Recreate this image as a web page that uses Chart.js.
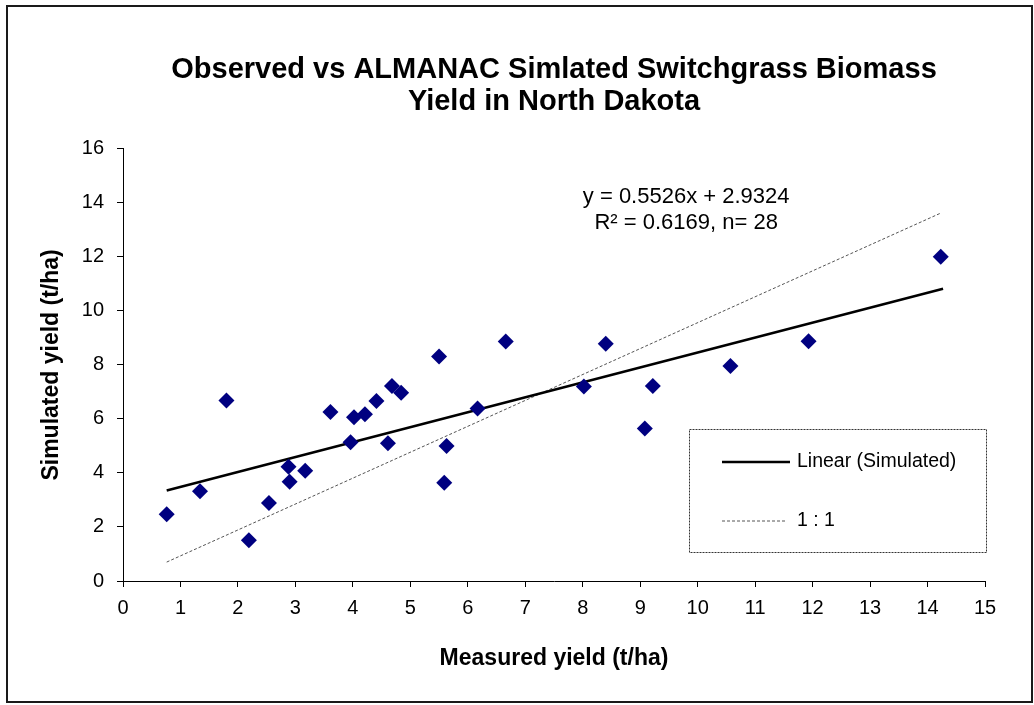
<!DOCTYPE html>
<html>
<head>
<meta charset="utf-8">
<title>Switchgrass biomass yield</title>
<script src="https://cdn.jsdelivr.net/npm/chart.js@4.4.1/dist/chart.umd.min.js"></script>
<style>
  html, body { margin: 0; padding: 0; background: #fff; }
  #wrap { width: 1034px; height: 705px; }
</style>
</head>
<body>
<div id="wrap"><canvas id="grafico" width="1034" height="705"></canvas></div>
<script>
// measured vs simulated yield (t/ha), one entry per plot-year
const medido   = [0.76, 1.34, 1.80, 2.19, 2.54, 2.88, 2.90, 3.17, 3.61, 3.96, 4.02, 4.21, 4.41, 4.61,
                  4.68, 4.84, 5.50, 5.59, 5.63, 6.17, 6.66, 8.02, 8.40, 9.08, 9.22, 10.57, 11.93, 14.23];
const simulado = [2.47, 3.32, 6.68, 1.51, 2.89, 4.23, 3.67, 4.08, 6.26, 5.14, 6.06, 6.17, 6.66, 5.10,
                  7.22, 6.97, 8.31, 3.64, 5.00, 6.39, 8.87, 7.20, 8.78, 5.65, 7.22, 7.96, 8.88, 12.00];

// fitted trend y = 0.5526x + 2.9324 over the measured range
const pendiente = 0.5526;
const intercepto = 2.9324;
const rangoTendencia = [0.76, 14.27];

// reference line ends
const lineaRefX = [0.76, 14.23];
const lineaRefY = [0.70, 13.62];

const ecuacion = ['y = 0.5526x + 2.9324', 'R² = 0.6169, n= 28'];
const ticksX = [0, 15, 1];
const ticksY = [0, 16, 2];

const puntos = medido.map((x, i) => ({ x: x, y: simulado[i] }));
const tendencia = rangoTendencia.map(x => ({ x: x, y: pendiente * x + intercepto }));
const lineaRef = lineaRefX.map((x, i) => ({ x: x, y: lineaRefY[i] }));

const fuente = "'Liberation Sans', Arial, sans-serif";

// fondo blanco y marco exterior
const marco = {
    id: 'marco',
    beforeDraw(chart) {
        const ctx = chart.ctx;
        ctx.save();
        ctx.fillStyle = '#fff';
        ctx.fillRect(0, 0, chart.width, chart.height);
        ctx.strokeStyle = '#1a1a1a';
        ctx.lineWidth = 2;
        ctx.strokeRect(7, 6, 1025, 696);
        ctx.restore();
    }
};

// ecuación y leyenda dentro del área de trazado
const anotaciones = {
    id: 'anotaciones',
    afterDraw(chart) {
        const ctx = chart.ctx;
        const sx = chart.scales.x, sy = chart.scales.y;
        ctx.save();
        ctx.fillStyle = '#000';
        ctx.font = '22px ' + fuente;
        ctx.textAlign = 'center';
        ctx.textBaseline = 'middle';
        const ex = sx.getPixelForValue(9.8);
        ctx.fillText(ecuacion[0], ex, sy.getPixelForValue(14.2));
        ctx.fillText(ecuacion[1], ex, sy.getPixelForValue(13.25));

        // caja de leyenda
        const bx = 689.5, by = 429.5, bw = 297, bh = 123;
        ctx.strokeStyle = '#333';
        ctx.lineWidth = 1;
        ctx.setLineDash([2, 1]);
        ctx.strokeRect(bx, by, bw, bh);

        const items = [chart.data.datasets[1], chart.data.datasets[2]];
        const filas = [462, 521];
        ctx.textAlign = 'left';
        ctx.font = '19.5px ' + fuente;
        items.forEach((ds, i) => {
            ctx.strokeStyle = ds.borderColor;
            ctx.lineWidth = ds.borderWidth;
            ctx.setLineDash(ds.borderDash || []);
            ctx.beginPath();
            ctx.moveTo(722, filas[i]);
            ctx.lineTo(i === 0 ? 790 : 787, filas[i]);
            ctx.stroke();
            ctx.fillText(ds.label, 797, filas[i]);
        });
        ctx.restore();
    }
};

new Chart(document.getElementById('grafico'), {
    type: 'scatter',
    data: {
        datasets: [
            {
                label: 'Simulated',
                data: puntos,
                pointStyle: 'rectRot',
                pointRadius: 8,
                pointBackgroundColor: '#000080',
                pointBorderColor: '#000080',
                pointBorderWidth: 0,
                showLine: false
            },
            {
                label: 'Linear (Simulated)',
                data: tendencia,
                showLine: true,
                borderColor: '#000',
                borderWidth: 2.5,
                pointRadius: 0,
                fill: false
            },
            {
                label: '1 : 1',
                data: lineaRef,
                showLine: true,
                borderColor: '#555',
                borderWidth: 1,
                borderDash: [3, 2],
                pointRadius: 0,
                fill: false
            }
        ]
    },
    options: {
        responsive: false,
        animation: false,
        layout: { padding: { top: 48, right: 49, left: 0, bottom: 0 } },
        plugins: {
            legend: { display: false },
            tooltip: { enabled: false },
            title: {
                display: true,
                fullSize: false,
                text: ['Observed vs ALMANAC Simlated Switchgrass Biomass', 'Yield in North Dakota'],
                color: '#000',
                font: { family: fuente, size: 29, weight: 'bold', lineHeight: 1.1 },
                padding: { top: 6, bottom: 31 }
            }
        },
        scales: {
            x: {
                type: 'linear',
                min: ticksX[0],
                max: ticksX[1],
                afterFit(scale) { scale.height = 124; },
                ticks: {
                    stepSize: ticksX[2],
                    color: '#000',
                    font: { family: fuente, size: 20 },
                    padding: 9
                },
                grid: { drawOnChartArea: false, drawTicks: true, tickLength: 6, color: '#000' },
                border: { display: true, color: '#000', width: 1 },
                title: {
                    display: true,
                    text: 'Measured yield (t/ha)',
                    color: '#000',
                    font: { family: fuente, size: 23, weight: 'bold' },
                    padding: { top: 0, bottom: 33 }
                }
            },
            y: {
                type: 'linear',
                min: ticksY[0],
                max: ticksY[1],
                afterFit(scale) { scale.width = 123; },
                ticks: {
                    stepSize: ticksY[2],
                    color: '#000',
                    font: { family: fuente, size: 20 },
                    padding: 13
                },
                grid: { drawOnChartArea: false, drawTicks: true, tickLength: 6, color: '#000' },
                border: { display: true, color: '#000', width: 1 },
                title: {
                    display: true,
                    text: 'Simulated yield (t/ha)',
                    color: '#000',
                    font: { family: fuente, size: 23, weight: 'bold' },
                    padding: { top: 38, bottom: 0 }
                }
            }
        }
    },
    plugins: [marco, anotaciones]
});
</script>
</body>
</html>
